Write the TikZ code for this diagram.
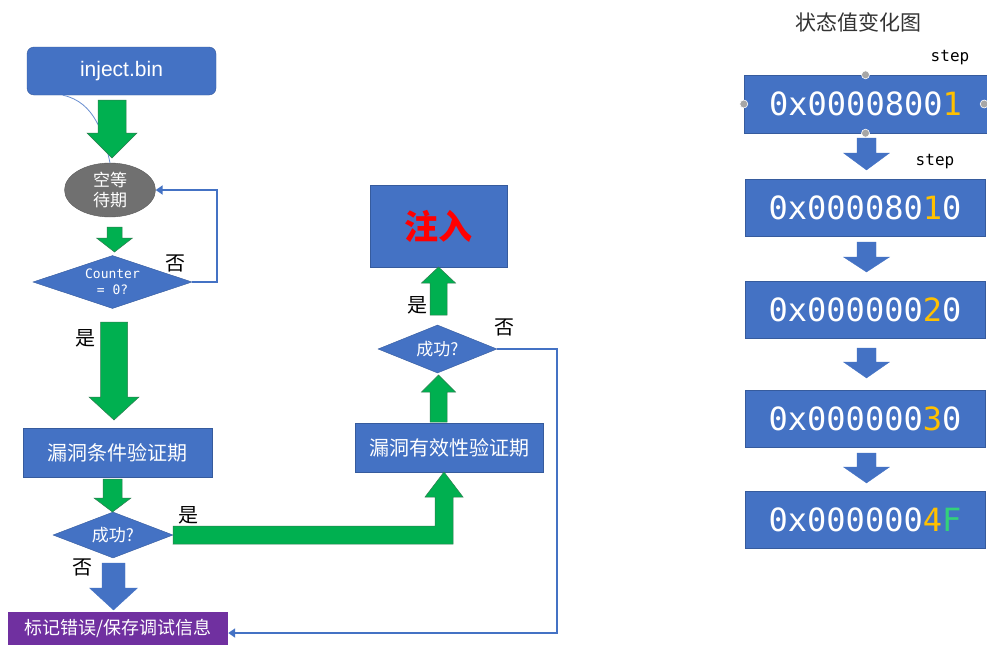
\documentclass[tikz,border=0pt]{standalone}
\usepackage{fontspec}
\setmainfont{Liberation Sans}
\newfontfamily\cjk{Noto Sans CJK SC}
\newfontfamily\monof{DejaVu Sans Mono}
\usetikzlibrary{shapes.geometric,arrows.meta}
\definecolor{bblue}{HTML}{4472C4}
\definecolor{ggreen}{HTML}{00B050}
\definecolor{dgreen}{HTML}{2E7D4F}
\definecolor{ppurple}{HTML}{7030A0}
\definecolor{ggray}{HTML}{707070}
\definecolor{oorange}{HTML}{FFC000}
\definecolor{lgreen}{HTML}{33D17A}
\definecolor{ttitle}{HTML}{333333}
\newcommand{\fatarrow}[7]{%
  \filldraw[#1] ({#2-#3},{#5}) -- ({#2+#3},{#5}) -- ({#2+#3},{#6}) -- ({#2+#4},{#6}) -- ({#2},{#7}) -- ({#2-#4},{#6}) -- ({#2-#3},{#6}) -- cycle;}
\tikzset{
  box/.style={rectangle, fill=bblue, draw=bblue!80!black, line width=0.4pt, inner sep=0pt, text=white, align=center},
  dia/.style={diamond, fill=bblue, draw=bblue!80!black, line width=0.4pt, inner sep=0pt, text=white, align=center},
  garrow/.style={fill=ggreen, draw=dgreen, line width=0.5pt},
  barrow/.style={fill=bblue, draw=bblue, line width=0.3pt},
  conn/.style={draw=bblue, line width=2pt},
  lbl/.style={font=\cjk\fontsize{20}{22}\selectfont, text=black, inner sep=0pt},
  hexbox/.style={box, minimum width=240pt, minimum height=57pt, font=\monof\fontsize{32}{34}\selectfont},
  handle/.style={circle, fill=gray!70, draw=white, line width=0.6pt, minimum size=8pt, inner sep=0pt},
  steplbl/.style={font=\monof\fontsize{16}{18}\selectfont, text=black, inner sep=0pt}
}
\begin{document}
\begin{tikzpicture}[x=1pt,y=-1pt]
\useasboundingbox[fill=white] (0,0) rectangle (987,645);
% ---- left flow ----
\node[box, rounded corners=7pt, minimum width=189pt, minimum height=48pt, font=\fontsize{21}{24}\selectfont] (inject) at (121.5,71) {\raisebox{-2pt}{inject.bin}};
\node[ellipse, fill=ggray, draw=ggray!80!black, line width=0.4pt, inner sep=0pt, minimum width=91pt, minimum height=54pt, text=white, align=center, font=\cjk\fontsize{17}{20}\selectfont] (wait) at (110,190) {空等\\待期};
\node[dia, minimum width=159pt, minimum height=53pt, aspect=3, font=\monof\fontsize{13}{16}\selectfont] (cnt) at (112.5,282) {Counter\\= 0?};
\node[box, minimum width=189pt, minimum height=49pt, font=\cjk\fontsize{20}{24}\selectfont] (cond) at (117.5,452.5) {漏洞条件验证期};
\node[dia, minimum width=120pt, minimum height=46pt, aspect=2.6, font=\cjk\fontsize{17}{20}\selectfont] (succa) at (113,535) {成功?};
\node[rectangle, fill=ppurple, inner sep=0pt, minimum width=220pt, minimum height=33pt, text=white, font=\cjk\fontsize{18}{22}\selectfont] (mark) at (118,628.5) {标记错误/保存调试信息};
\node[box, minimum width=188pt, minimum height=49pt, font=\cjk\fontsize{20}{24}\selectfont] (valid) at (449,447.5) {漏洞有效性验证期};
\node[dia, minimum width=119pt, minimum height=48pt, aspect=2.5, font=\cjk\fontsize{17}{20}\selectfont] (succb) at (437.5,349) {成功?};
\node[box, minimum width=137pt, minimum height=82pt, text=red, font=\cjk\bfseries\fontsize{34}{38}\selectfont] (inj) at (438.5,226) {注入};
% thin curve
\draw[draw=bblue!80, line width=0.8pt] ([xshift=36pt]inject.south west) .. controls (95,102) and (104,135) .. (wait.north);
% fat arrows
\fatarrow{garrow}{112}{14}{25}{100}{133}{158}
\fatarrow{garrow}{114.5}{7.5}{18}{227}{238}{252}
\fatarrow{garrow}{114}{13.5}{25}{322}{397}{420}
\fatarrow{garrow}{112.5}{9.5}{18.5}{479}{498}{512}
\fatarrow{barrow}{113.5}{11.5}{24}{563}{588}{610}
\fatarrow{garrow}{438.5}{8.5}{17}{422}{392}{375}
\fatarrow{garrow}{438.5}{8.5}{17}{315}{283}{267}
% L-shaped green arrow from succa to valid
\filldraw[garrow] (succa.east) ++(0,-9) coordinate (la) -- (435,526) -- (435,497) -- (425,497) -- (444,472) -- (463,497) -- (453,497) -- (453,544) -- (173,544) -- cycle;
% connectors
\draw[conn, -{Triangle[width=9pt,length=7pt]}] (cnt.east) -- ++(25,0) |- (wait.east);
\draw[conn, -{Triangle[width=9pt,length=7pt]}] (succb.east) -- ++(60,0) |- ([yshift=-4.5pt]mark.east);
% labels
\node[lbl] (l1) at (175,263) {否};
\node[lbl] (l2) at (85,338) {是};
\node[lbl] (l3) at (188,515) {是};
\node[lbl] (l4) at (82,567) {否};
\node[lbl] (l5) at (417,305) {是};
\node[lbl] (l6) at (504,327) {否};
% ---- right panel ----
\node[font=\cjk\fontsize{21}{24}\selectfont, text=ttitle, inner sep=0pt] (title) at (858,22) {状态值变化图};
\node[hexbox, minimum width=243pt, minimum height=58pt] (h1) at (865.5,104) {0x0000800\textcolor{oorange}{1}};
\node[hexbox] (h2) at (865,208) {0x000080\textcolor{oorange}{1}0};
\node[hexbox] (h3) at (865,310) {0x000000\textcolor{oorange}{2}0};
\node[hexbox] (h4) at (865,418.5) {0x000000\textcolor{oorange}{3}0};
\node[hexbox] (h5) at (865,520) {0x000000\textcolor{oorange}{4}\textcolor{lgreen}{F}};
\node[handle] (hn) at (h1.north) {};
\node[handle] (hs) at (h1.south) {};
\node[handle] (hw) at (h1.west) {};
\node[handle] (he) at ([xshift=-3pt]h1.east) {};
\node[steplbl] (s1) at (950,58) {step};
\node[steplbl] (s2) at (935,162) {step};
\fatarrow{barrow}{866.5}{9.5}{23}{138}{153}{170}
\fatarrow{barrow}{866.5}{9.5}{23}{242}{257}{272}
\fatarrow{barrow}{866.5}{9.5}{23}{348}{362}{378}
\fatarrow{barrow}{866.5}{9.5}{23}{453}{467}{483}
\end{tikzpicture}
\end{document}
